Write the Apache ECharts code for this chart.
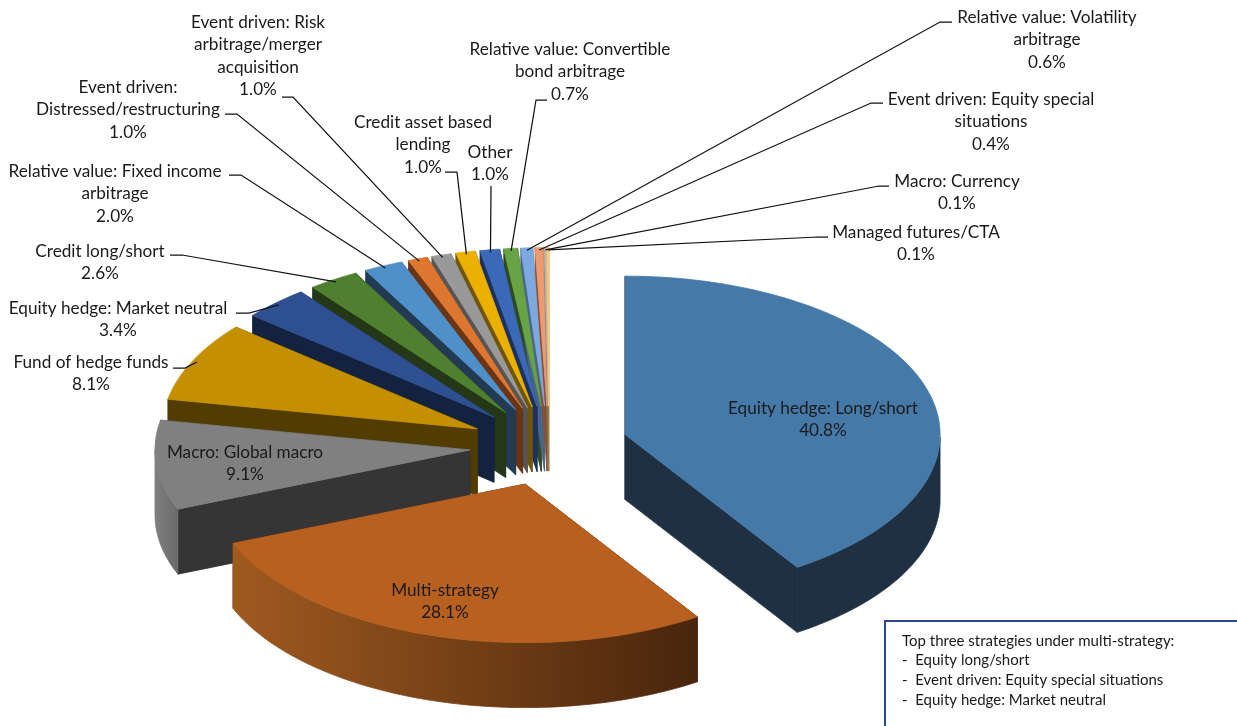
<!DOCTYPE html>
<html>
<head>
<meta charset="utf-8">
<style>html,body{margin:0;padding:0;background:#fff}#chart{width:1237px;height:726px}</style>
<script src="https://cdn.jsdelivr.net/npm/echarts@6/dist/echarts.min.js"></script>
</head>
<body>
<div id="chart"></div>
<script>
// Strategy names, clockwise from twelve o'clock
const categories = [
  'Equity hedge: Long/short', 'Multi-strategy', 'Macro: Global macro', 'Fund of hedge funds',
  'Equity hedge: Market neutral', 'Credit long/short', 'Relative value: Fixed income\narbitrage',
  'Event driven:\nDistressed/restructuring', 'Event driven: Risk\narbitrage/merger\nacquisition',
  'Credit asset based\nlending', 'Other', 'Relative value: Convertible\nbond arbitrage',
  'Relative value: Volatility\narbitrage', 'Event driven: Equity special\nsituations',
  'Macro: Currency', 'Managed futures/CTA'
];
// Share of assets, percent
const shares = [40.8, 28.1, 9.1, 8.1, 3.4, 2.6, 2.0, 1.0, 1.0, 1.0, 1.0, 0.7, 0.6, 0.4, 0.1, 0.1];

// Colours of the top face and of the side walls
const topColors = ['#4579A8', '#B86020', '#808080', '#C49000', '#2F5090', '#4F8030', '#5090C8', '#DD7730',
  '#999999', '#EBB000', '#3C68B8', '#68A345', '#7CAAE0', '#EE9A70', '#B7B7B7', '#FFCD70'];
const wallColors = ['#1E3042', '#48250C', '#353535', '#523C00', '#13223F', '#243818', '#223B52', '#6B3414',
  '#555555', '#705400', '#1C3160', '#2E4A1E', '#4A6585', '#8A5030', '#6A6A6A', '#A08040'];
// Only the two front slices catch light on their rims: [colour at left, colour at right]
const rimGradients = { 1: ['#A05A20', '#48250C'], 2: ['#7F7F7F', '#6A6A6A'] };

// Label centres and leader lines: [label x, first line y, leader start, leader elbow]
const labelLayout = [
  [823, 408, null, null], [445, 590, null, null], [245, 452, null, null],
  [91, 362, [173, 368], [185, 368]], [118, 308, [236, 313], [249, 313]],
  [100, 251, [170, 255], [182, 255]], [115, 171, [229, 175], [241, 175]],
  [128, 87, [225, 114], [237, 114]], [258, 22, [282, 97], [293, 97]],
  [423, 122, [445, 172], [457, 172]], [490, 152, [491, 186], [491, 190]],
  [570, 49, [547, 100], [536, 100]], [1047, 17, [952, 22], [940, 22]],
  [991, 99, [883, 103], [871, 103]], [957, 181, [889, 186], [879, 186]],
  [916, 232, [828, 237], [818, 237]]
];

// Projected pie geometry
const CX = 549, CY = 446, RX = 315, RY = 158.5, DEPTH = 65, EXPLODE = 0.252;
const FONT = 'Lato, "Open Sans", sans-serif';
const total = shares.reduce((a, b) => a + b, 0);

function onEllipse(deg, scale, ox, oy) {
  const t = deg * Math.PI / 180;
  return [ox + scale * RX * Math.sin(t), oy - scale * RY * Math.cos(t)];
}
function drop(p) { return [p[0], p[1] + DEPTH]; }
function polygon(points, fill, z2, edge) {
  return { type: 'polygon', shape: { points }, style: { fill, stroke: edge || fill, lineWidth: 0.8 }, z2, silent: true };
}

function renderSlice(params, api) {
  const i = params.dataIndex;
  const value = api.value(1);
  let startShare = 0;
  for (let k = 0; k < i; k++) startShare += shares[k];
  const a0 = startShare / total * 360;
  const a1 = (startShare + value) / total * 360;
  const mid = (a0 + a1) / 2;
  const apex = onEllipse(mid, EXPLODE, CX, CY);
  const arc = [];
  const steps = Math.max(2, Math.ceil(a1 - a0));
  for (let s = 0; s <= steps; s++) arc.push(onEllipse(a0 + (a1 - a0) * s / steps, 1, apex[0], apex[1]));

  // Slices further back are painted first
  const order = Math.round((1 - Math.cos(mid * Math.PI / 180)) * 100 + a0 / 360) * 10 + 10;
  const wall = wallColors[i];
  const children = [
    polygon([apex, arc[0], drop(arc[0]), drop(apex)], wall, order),
    polygon([apex, arc[steps], drop(arc[steps]), drop(apex)], wall, order)
  ];

  // Outer rim, only where it faces the viewer
  const rim = arc.filter((p, s) => {
    const d = a0 + (a1 - a0) * s / steps;
    return d >= 90 && d <= 270;
  });
  if (rim.length > 1) {
    const xs = rim.map(p => p[0]);
    const minX = Math.min(...xs), maxX = Math.max(...xs);
    const g = rimGradients[i];
    const fill = g ? {
      type: 'linear', x: minX, y: 0, x2: maxX, y2: 0, global: true,
      colorStops: [{ offset: 0, color: g[0] }, { offset: 1, color: g[1] }]
    } : wall;
    children.push(polygon(rim.concat(rim.map(drop).reverse()), fill, order + 1));
  }
  children.push(polygon([apex].concat(arc), topColors[i], order + 2));

  // Label and leader line
  const layout = labelLayout[i];
  const text = categories[i] + '\n' + value.toFixed(1) + '%';
  children.push({
    type: 'text', z2: 10000, silent: true,
    style: { x: layout[0], y: layout[1] - 11, text, fill: '#1a1a1a', font: '17.2px ' + FONT,
      align: 'center', verticalAlign: 'top', lineHeight: 22.5 }
  });
  if (layout[2]) {
    const end = onEllipse(mid, 0.985, apex[0], apex[1]);
    children.push({
      type: 'polyline', z2: 9000, silent: true,
      shape: { points: [layout[2], layout[3], end] },
      style: { stroke: '#111', lineWidth: 1.25, fill: 'none' }
    });
  }
  return { type: 'group', children };
}

const chart = echarts.init(document.getElementById('chart'), null, { renderer: 'canvas' });
chart.setOption({
  animation: false,
  backgroundColor: '#fff',
  series: [{
    type: 'custom',
    coordinateSystem: 'none',
    data: shares.map((v, i) => [i, v]),
    renderItem: renderSlice
  }],
  graphic: [
    { type: 'rect', left: 884, top: 620, shape: { width: 380, height: 130 }, z: 20,
      style: { fill: '#fff', stroke: '#2B4A86', lineWidth: 2 } },
    { type: 'text', left: 902, top: 631, z: 21,
      style: {
        text: 'Top three strategies under multi-strategy:\n-  Equity long/short\n-  Event driven: Equity special situations\n-  Equity hedge: Market neutral',
        font: '15px ' + FONT, fill: '#1a1a1a', lineHeight: 19.7
      } }
  ]
});
</script>
</body>
</html>
